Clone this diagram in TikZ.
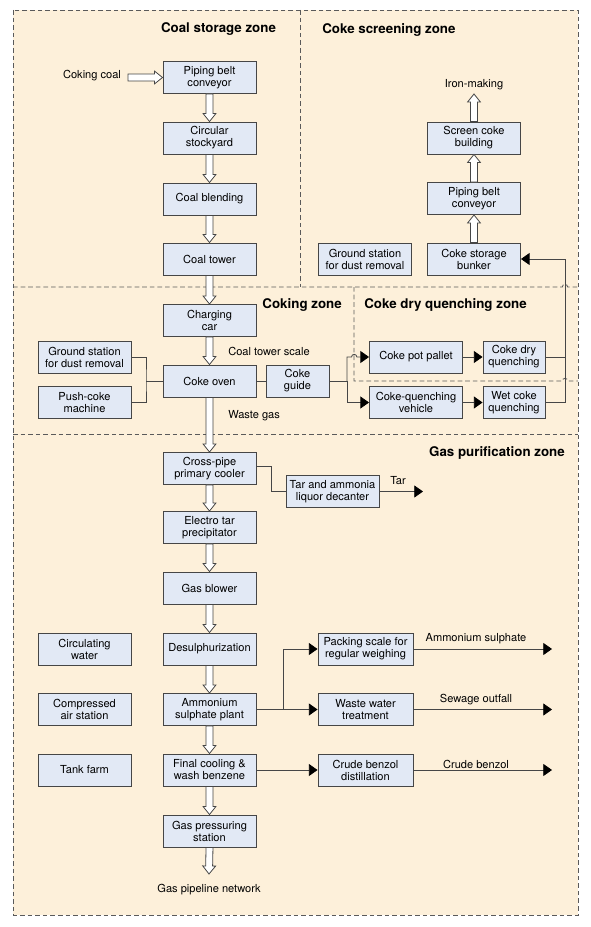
\documentclass[tikz,border=0pt]{standalone}
\usepackage{fontspec}
\setmainfont{TeX Gyre Heros}
\usetikzlibrary{calc,arrows.meta}
\definecolor{zonefill}{RGB}{253,240,218}
\definecolor{boxfill}{RGB}{226,233,245}
\definecolor{boxline}{RGB}{70,70,70}
\definecolor{zoneline}{RGB}{90,90,90}
\newcommand{\pipew}{2.6pt}
\newcommand{\pipehw}{4.8pt}
\newcommand{\pipeh}{6pt}
\tikzset{
  box/.style={draw=boxline, fill=boxfill, line width=0.7pt, minimum width=69.75pt,
    minimum height=24pt, inner sep=1pt, align=center, font=\fontsize{8.3}{9}\selectfont},
  zone/.style={draw=zoneline, dash pattern=on 3.5pt off 2.2pt, line width=0.65pt},
  title/.style={font=\fontsize{10}{12}\selectfont\bfseries, inner sep=0pt},
  lbl/.style={font=\fontsize{8.3}{9}\selectfont, inner sep=0pt},
  link/.style={draw=boxline, line width=0.6pt},
  flow/.style={link, -{Triangle[length=6.5pt, width=9pt, black]}},
  pipe/.style={draw=boxline, fill=white, line width=0.6pt, line join=miter,
    to path={
      ($(\tikztostart)!\pipew!90:(\tikztotarget)$)
      -- ($($(\tikztotarget)!\pipeh!(\tikztostart)$)!\pipew!-90:(\tikztostart)$)
      -- ($($(\tikztotarget)!\pipeh!(\tikztostart)$)!\pipehw!-90:(\tikztostart)$)
      -- (\tikztotarget)
      -- ($($(\tikztotarget)!\pipeh!(\tikztostart)$)!\pipehw!90:(\tikztostart)$)
      -- ($($(\tikztotarget)!\pipeh!(\tikztostart)$)!\pipew!90:(\tikztostart)$)
      -- ($(\tikztostart)!\pipew!-90:(\tikztotarget)$)
      -- cycle}}
}
\begin{document}
\begin{tikzpicture}[x=0.75pt, y=-0.75pt]
  \useasboundingbox (0,0) rectangle (590,927);
  % zones
  \draw[zone, fill=zonefill] (13,10) rectangle (578,915);
  \draw[zone] (300,10) -- (300,287);
  \draw[zone] (13,287) -- (562.3,287) arc[start angle=180, end angle=0, radius=2pt] -- (578,287);
  \draw[zone] (354,287) -- (354,381) -- (562.3,381) arc[start angle=180, end angle=0, radius=2pt] -- (578,381);
  \draw[zone] (13,434) -- (578,434);

  \node[title] at (218.5,29) {Coal storage zone};
  \node[title, anchor=west] at (322,30) {Coke screening zone};
  \node[title, anchor=east] at (342,305) {Coking zone};
  \node[title, anchor=west] at (364,305) {Coke dry quenching zone};
  \node[title, anchor=east] at (565,453) {Gas purification zone};

  % main line
  \foreach \n/\y/\t in {pbc/77.5/{Piping belt\\conveyor}, cst/138/{Circular\\stockyard},
      cbl/199/{Coal blending}, ctw/259/{Coal tower}, chc/320.5/{Charging\\car},
      cov/381/{Coke oven}, cpc/468.5/{Cross-pipe\\primary cooler},
      etp/527.5/{Electro tar\\precipitator}, gbl/588/{Gas blower},
      dsu/649/{Desulphurization}, asp/709.5/{Ammonium\\sulphate plant},
      fcw/770/{Final cooling \&\\wash benzene}, gps/831/{Gas pressuring\\station}}
    \node[box] (\n) at (209.5,\y) {\t};

  % side boxes
  \foreach \n/\y/\t in {gsc/357/{Ground station\\for dust removal}, pcm/402.5/{Push-coke\\machine},
      cwa/649/{Circulating\\water}, cas/709.5/{Compressed\\air station}, tfm/770/{Tank farm}}
    \node[box] (\n) at (84.5,\y) {\t};

  \node[box] (csb) at (474,259) {Coke storage\\bunker};
  \node[box] (pbcs) at (474,198.5) {Piping belt\\conveyor};
  \node[box] (scb) at (474,138) {Screen coke\\building};
  \node[box] (gss) at (365,259) {Ground station\\for dust removal};

  \node[box, minimum width=47.25pt] (cgd) at (297.5,381) {Coke\\guide};
  \node[box] (cpp) at (416,357) {Coke pot pallet};
  \node[box] (cqv) at (416,402.5) {Coke-quenching\\vehicle};
  \node[box, minimum width=46.5pt] (cdq) at (514,357) {Coke dry\\quenching};
  \node[box, minimum width=46.5pt] (wcq) at (514,402.5) {Wet coke\\quenching};

  \node[box] (tad) at (332.5,491.5) {Tar and ammonia\\liquor decanter};
  \node[box, minimum width=71.25pt] (psw) at (365.5,649) {Packing scale for\\regular weighing};
  \node[box, minimum width=71.25pt] (wwt) at (365.5,709.5) {Waste water\\treatment};
  \node[box, minimum width=71.25pt] (cbd) at (365.5,770) {Crude benzol\\distillation};

  % labels
  \node[lbl] (ccoal) at (92,76) {Coking coal};
  \node[lbl] (iron) at (474,85) {Iron-making};
  \node[lbl, anchor=west] at (228,351) {Coal tower scale};
  \node[lbl, anchor=west] at (228,416) {Waste gas};
  \node[lbl] at (398,481) {Tar};
  \node[lbl] at (476,639) {Ammonium sulphate};
  \node[lbl] at (476,700) {Sewage outfall};
  \node[lbl] at (476,764) {Crude benzol};
  \node[lbl] (gpn) at (209,890) {Gas pipeline network};

  \coordinate (coalin) at (128,77.5);
  \coordinate (ironout) at (474,94);
  \coordinate (netout) at (209,874);
  \coordinate (brk) at (146,381);
  \coordinate (split) at (347,381);
  \coordinate (hop) at (351.5,357);
  \coordinate (retbot) at (565,402.5);
  \coordinate (rettop) at (565,259);
  \coordinate (tadel) at (271,466);
  \coordinate (asj) at (283,709.5);
  \coordinate (tarend) at (423,491.5);
  \coordinate (asend) at (552,649);
  \coordinate (swend) at (552,709.5);
  \coordinate (cbend) at (552,770);

  % hollow pipes
  \draw[pipe] (coalin) to (pbc.west);
  \foreach \a/\b in {pbc/cst, cst/cbl, cbl/ctw, ctw/chc, chc/cov, cov/cpc, cpc/etp,
      etp/gbl, gbl/dsu, dsu/asp, asp/fcw, fcw/gps}
    \draw[pipe] (\a.south) to (\b.north);
  \draw[pipe] (gps.south) to (netout);
  \foreach \a/\b in {csb/pbcs, pbcs/scb}
    \draw[pipe] (\a.north) to (\b.south);
  \draw[pipe] (scb.north) to (ironout);

  % coking connectors
  \draw[link] (gsc.east) -| (brk) |- (pcm.east);
  \draw[link] (brk) -- (cov.west);
  \draw[link] (cov.east) -- (cgd.west);
  \draw[link] (cgd.east) -- (split);
  \draw[flow] (split) |- (hop) arc[start angle=180, end angle=0, radius=2pt] -- (cpp.west);
  \draw[flow] (split) |- (cqv.west);
  \draw[flow] (cpp.east) -- (cdq.west);
  \draw[flow] (cqv.east) -- (wcq.west);
  \draw[link] (cdq.east) -- (cdq.east -| retbot);
  \draw[flow] (wcq.east) -- (retbot) -- (rettop) -- (csb.east);

  % gas connectors
  \draw[link] (cpc.east |- tadel) -- (tadel) |- (tad.west);
  \draw[flow] (tad.east) -- (tarend);
  \draw[flow] (asp.east) -- (asj) -- (wwt.west);
  \draw[flow] (asj) |- (psw.west);
  \draw[flow] (fcw.east) -- (cbd.west);
  \draw[flow] (psw.east) -- (asend);
  \draw[flow] (wwt.east) -- (swend);
  \draw[flow] (cbd.east) -- (cbend);
\end{tikzpicture}
\end{document}
